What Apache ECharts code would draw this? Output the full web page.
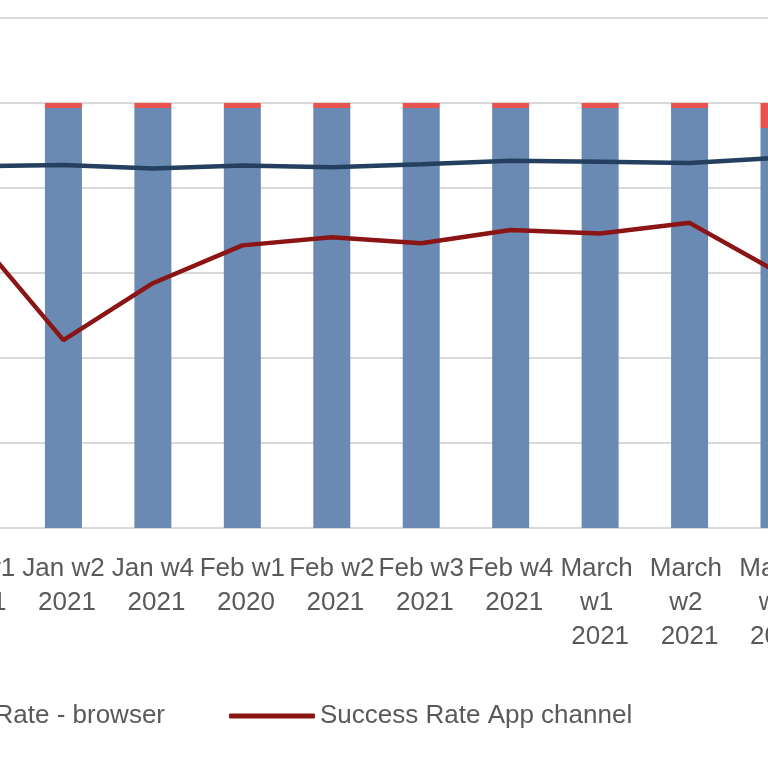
<!DOCTYPE html>
<html>
<head>
<meta charset="utf-8">
<script src="https://cdn.jsdelivr.net/npm/echarts@6/dist/echarts.min.js"></script>
<style>
html,body{margin:0;padding:0;width:768px;height:768px;overflow:hidden;background:#fff;}
#chart{position:absolute;left:-300px;top:0;width:1400px;height:768px;}
</style>
</head>
<body>
<div id="chart"></div>
<script>
const categories = ['Jan w1 2021','Jan w2 2021','Jan w4 2021','Feb w1 2020','Feb w2 2021','Feb w3 2021','Feb w4 2021','March w1 2021','March w2 2021','March w3 2021'];
const successBars = [98.8, 98.8, 98.8, 98.8, 98.8, 98.8, 98.8, 98.8, 98.8, 94.1];
const failBars    = [1.2, 1.2, 1.2, 1.2, 1.2, 1.2, 1.2, 1.2, 1.2, 5.9];
const browserRate = [85.1, 85.4, 84.6, 85.3, 84.9, 85.6, 86.4, 86.2, 85.9, 87.1];
const appRate     = [69.2, 44.2, 57.6, 66.5, 68.4, 67.0, 70.1, 69.3, 71.8, 60.0];
const yTicks = {min: 0, max: 120, interval: 20};

const textColor = '#595959';
const fontFamily = 'Liberation Sans, Arial, sans-serif';
const chart = echarts.init(document.getElementById('chart'));
chart.setOption({
  animation: false,
  grid: {left: 229.25, top: 18, width: 894.5, height: 510, containLabel: false},
  legend: [
    {data: ['Success Rate - browser'], right: 935, top: 701, padding: 0, itemWidth: 86, itemHeight: 5, icon: 'roundRect',
     textStyle: {fontSize: 26, color: textColor, fontFamily: fontFamily, lineHeight: 30}},
    {data: ['Success Rate App channel'], left: 529, top: 701, padding: 0, itemWidth: 86, itemHeight: 5, icon: 'roundRect',
     textStyle: {fontSize: 26, color: textColor, fontFamily: fontFamily, lineHeight: 30}}
  ],
  xAxis: {
    type: 'category', data: categories,
    axisLine: {lineStyle: {color: '#d9d9d9', width: 2}},
    axisTick: {show: false},
    axisLabel: {interval: 0, margin: 24, fontSize: 26, lineHeight: 34, color: textColor, fontFamily: fontFamily,
      width: 89, overflow: 'break'}
  },
  yAxis: {
    type: 'value', min: yTicks.min, max: yTicks.max, interval: yTicks.interval,
    axisLine: {show: false}, axisTick: {show: false},
    axisLabel: {formatter: '{value}%', fontSize: 26, color: textColor, fontFamily: fontFamily},
    splitLine: {lineStyle: {color: '#d9d9d9', width: 2}}
  },
  series: [
    {name: 'Success', type: 'bar', stack: 'total', data: successBars, barWidth: 37, itemStyle: {color: '#6a8ab4'}},
    {name: 'Fail', type: 'bar', stack: 'total', data: failBars, barWidth: 37, itemStyle: {color: '#e8534f'}},
    {name: 'Success Rate - browser', type: 'line', data: browserRate, symbol: 'none', z: 5,
     lineStyle: {color: '#243f5f', width: 4.5}, itemStyle: {color: '#243f5f'}},
    {name: 'Success Rate App channel', type: 'line', data: appRate, symbol: 'none', z: 5,
     lineStyle: {color: '#8b1414', width: 4.5}, itemStyle: {color: '#8b1414'}}
  ]
});
</script>
</body>
</html>
